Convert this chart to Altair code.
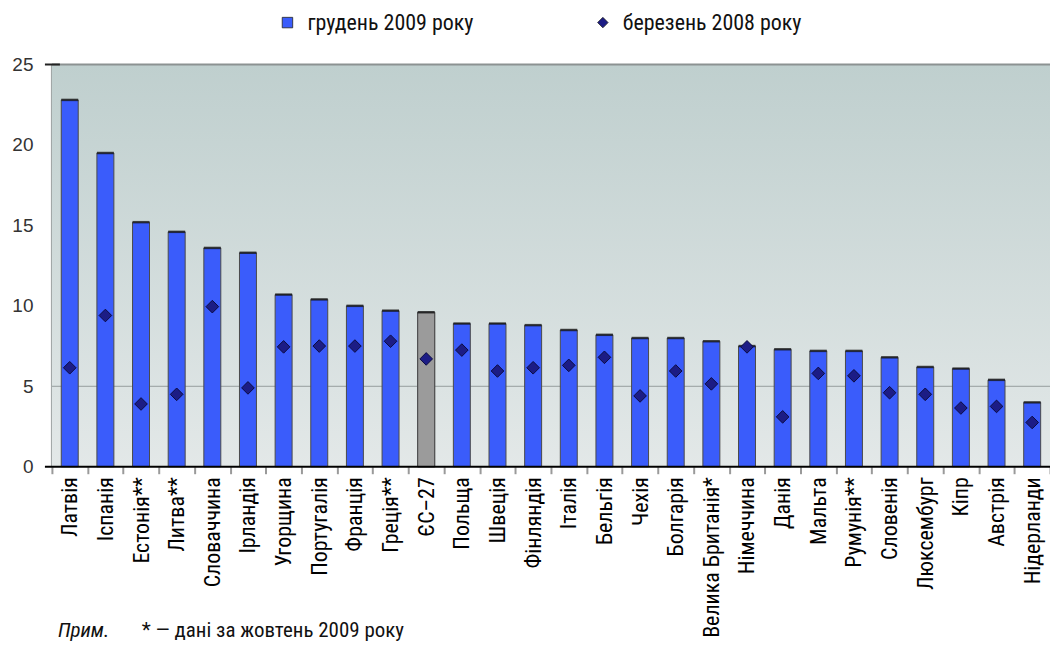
import altair as alt
import pandas as pd

countries = ["Латвія", "Іспанія", "Естонія**", "Литва**", "Словаччина", "Ірландія",
             "Угорщина", "Португалія", "Франція", "Греція**", "ЄС–27", "Польща",
             "Швеція", "Фінляндія", "Італія", "Бельгія", "Чехія", "Болгарія",
             "Велика Британія*", "Німеччина", "Данія", "Мальта", "Румунія**",
             "Словенія", "Люксембург", "Кіпр", "Австрія", "Нідерланди"]
dec2009 = [22.8, 19.5, 15.2, 14.6, 13.6, 13.3, 10.7, 10.4, 10.0, 9.7, 9.6, 8.9,
           8.9, 8.8, 8.5, 8.2, 8.0, 8.0, 7.8, 7.5, 7.3, 7.2, 7.2, 6.8, 6.2, 6.1,
           5.4, 4.0]
mar2008 = [6.15, 9.4, 3.9, 4.5, 9.95, 4.9, 7.45, 7.5, 7.5, 7.8, 6.7, 7.25, 5.95,
           6.15, 6.3, 6.8, 4.4, 5.95, 5.15, 7.45, 3.1, 5.8, 5.65, 4.6, 4.5, 3.65,
           3.75, 2.75]
series_names = ["грудень 2009 року", "березень 2008 року"]
eu_name = "ЄС–27"
note_head = "Прим."
note_text = "* — дані за жовтень 2009 року"

W, H = 1000, 403
NARROW = ("'Roboto Condensed', 'Noto Sans ExtraCondensed', 'Noto Sans Condensed', "
          "'Liberation Sans Narrow', 'DejaVu Sans Condensed', sans-serif")

df = pd.DataFrame({"country": countries, series_names[0]: dec2009, series_names[1]: mar2008})
base = alt.Chart(df).transform_fold(series_names, as_=["key", "value"])

xenc = alt.X("country:N", sort=countries, title=None,
             scale=alt.Scale(paddingInner=0, paddingOuter=0),
             axis=alt.Axis(labelAngle=-90, labelFont=NARROW, labelFontSize=22,
                           labelColor="#000", labelPadding=3, tickSize=7,
                           tickColor="#9a9a9a", tickWidth=2, tickBand="extent",
                           domain=False, grid=False, labelLimit=300))
yscale = alt.Scale(domain=[0, 25], nice=False)
yenc = alt.Y("value:Q", scale=yscale, title=None,
             axis=alt.Axis(values=[0, 5, 10, 15, 20, 25], labelFont="Liberation Sans",
                           labelFontSize=19, labelColor="#333", ticks=False,
                           labelPadding=19, grid=False, domainColor="#9ea3a3",
                           domainWidth=3))
color = alt.Color("key:N", scale=alt.Scale(domain=series_names, range=["#3a5cfb", "#1c1c85"]),
                  title=None,
                  legend=alt.Legend(orient="none", legendX=225, legendY=-53,
                                    direction="horizontal", labelFont=NARROW,
                                    labelFontSize=22, labelColor="#111", labelLimit=400,
                                    symbolSize=110, labelOffset=9, columnPadding=118,
                                    padding=0, symbolStrokeColor="#222",
                                    symbolStrokeWidth=0.8))
shape = alt.Shape("key:N", scale=alt.Scale(domain=series_names, range=["square", "diamond"]),
                  title=None, legend=None)

bg = alt.Chart(pd.DataFrame({"a": [0]})).mark_rect(
    color=alt.Gradient(gradient="linear", x1=0, x2=0, y1=0, y2=1,
                       stops=[alt.GradientStop(offset=0, color="#bfcfce"),
                              alt.GradientStop(offset=1, color="#e3e8e8")])
).encode(x=alt.value(0), x2=alt.value(W), y=alt.value(0), y2=alt.value(H))

grid5 = alt.Chart(pd.DataFrame({"v": [5]})).mark_rule(color="#979d9d", strokeWidth=1).encode(
    y=alt.Y("v:Q", scale=yscale), x=alt.value(0), x2=alt.value(W))
top25 = alt.Chart(pd.DataFrame({"v": [25]})).mark_rule(color="#8c9292", strokeWidth=2).encode(
    y=alt.Y("v:Q", scale=yscale), x=alt.value(0), x2=alt.value(W))
tick25 = alt.Chart(pd.DataFrame({"v": [25]})).mark_rule(color="#222", strokeWidth=2).encode(
    y=alt.Y("v:Q", scale=yscale), x=alt.value(-7), x2=alt.value(8))

bars = base.transform_filter(alt.datum.key == series_names[0]).mark_bar(
    size=17, stroke="#4a4a4a", strokeWidth=1).encode(x=xenc, y=yenc, color=color, shape=shape)
eu_bar = base.transform_filter(
    (alt.datum.key == series_names[0]) & (alt.datum.country == eu_name)
).mark_bar(size=17, color="#9b9b9b", stroke="#4a4a4a", strokeWidth=1).encode(
    x=alt.X("country:N", sort=countries), y=alt.Y("value:Q", scale=yscale))
caps = base.transform_filter(alt.datum.key == series_names[0]).mark_tick(
    orient="horizontal", size=17, thickness=2.5, color="#111").encode(
    x=alt.X("country:N", sort=countries), y=alt.Y("value:Q", scale=yscale))
points = base.transform_filter(alt.datum.key == series_names[1]).mark_point(
    filled=True, size=160, stroke="#0b0b40", strokeWidth=1, opacity=1).encode(
    x=alt.X("country:N", sort=countries), y=alt.Y("value:Q", scale=yscale),
    color=color, shape=shape)

zero = alt.Chart(pd.DataFrame({"v": [0]})).mark_rule(color="#000", strokeWidth=2).encode(
    y=alt.Y("v:Q", scale=yscale), x=alt.value(-7), x2=alt.value(W))

note1 = alt.Chart(pd.DataFrame({"t": [note_head]})).mark_text(
    align="left", baseline="middle", font=NARROW, fontSize=21, fontStyle="italic",
    color="#111").encode(text="t:N", x=alt.value(6), y=alt.value(568))
note2 = alt.Chart(pd.DataFrame({"t": [note_text]})).mark_text(
    align="left", baseline="middle", font=NARROW, fontSize=21, color="#111").encode(
    text="t:N", x=alt.value(90), y=alt.value(568))

chart = alt.layer(bg, grid5, top25, tick25, bars, eu_bar, caps, points, zero, note1, note2).properties(
    width=W, height=H,
    padding={"left": 44, "top": 56, "right": 0, "bottom": 176},
    autosize=alt.AutoSizeParams(type="none"),
).configure_view(stroke=None)

chart.save("out.html", embed_options={"renderer": "svg", "actions": False})
